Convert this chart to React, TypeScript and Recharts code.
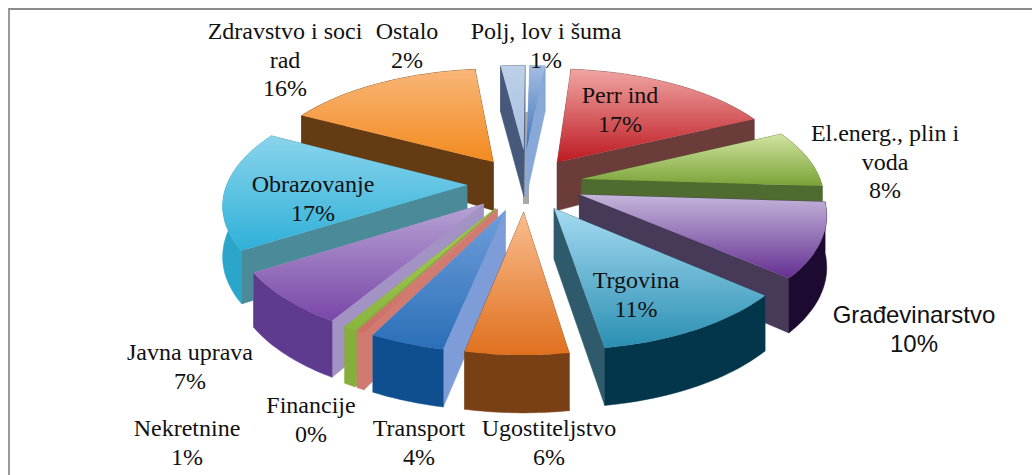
import React from 'react';
import { PieChart, Pie } from 'recharts';

// back-right half runs clockwise from the top, back-left half counter-clockwise,
// so each half paints back to front
const rightNames = ['Perr ind', 'El.energ., plin i voda', 'Građevinarstvo', 'Trgovina', 'Ugostiteljstvo'];
const rightValues = [16.5, 8.0, 10.3, 11.1, 5.7];
const leftNames = ['Polj, lov i šuma', 'Ostalo', 'Zdravstvo i soci rad', 'Obrazovanje', 'Javna uprava', 'Nekretnine', 'Financije', 'Transport'];
const leftValues = [1.2, 1.9, 15.5, 16.6, 7.4, 0.7, 0.45, 4.2];

const total = [...rightValues, ...leftValues].reduce((a, b) => a + b, 0);
const rightData = rightNames.map((name, i) => ({ name, value: rightValues[i] }));
const leftData = leftNames.map((name, i) => ({ name, value: leftValues[i] }));
const rightSpan = (rightValues.reduce((a, b) => a + b, 0) / total) * 360;
const leftSpan = (leftValues.reduce((a, b) => a + b, 0) / total) * 360;

const START = 85;
const EXPLODE = 58;
const CX = 525;
const CY = 184;
const RADIUS = 240;

// top gradient start, top gradient end, radial wall, rim wall
const colors: Record<string, string[]> = {
  'Perr ind': ['#f0a5a3', '#bd1a22', '#6b3c3a', '#6b3c3a'],
  'El.energ., plin i voda': ['#d0e4a0', '#7ba338', '#4f6b30', '#4f6b30'],
  'Građevinarstvo': ['#c4b6da', '#642f92', '#463a58', '#1c0a30'],
  'Trgovina': ['#a5daf1', '#2a8fb2', '#2f5a6c', '#03364a'],
  'Ugostiteljstvo': ['#f9bd8e', '#e0701f', '#7a4015', '#7a4015'],
  'Polj, lov i šuma': ['#a5bde2', '#3f74bb', '#88a8d8', '#88a8d8'],
  'Ostalo': ['#bdd0e8', '#a8c0e0', '#46597a', '#46597a'],
  'Zdravstvo i soci rad': ['#f9b679', '#f28a1e', '#653b13', '#653b13'],
  'Obrazovanje': ['#8ad4ec', '#2fb0d8', '#4b8b99', '#2ba6ca'],
  'Javna uprava': ['#b6a2d4', '#7a47a8', '#a392c4', '#5f3b90'],
  'Nekretnine': ['#a6c95c', '#8ab53e', '#86ae3c', '#86ae3c'],
  'Financije': ['#d98a80', '#cc6f66', '#d07a70', '#d07a70'],
  'Transport': ['#6f9edb', '#2a6fb7', '#7d9cd8', '#0f4f8f'],
};

// label centre, as [x, first line y]
const labelSpots: Record<string, [number, number]> = {
  'Perr ind': [620, 103],
  'El.energ., plin i voda': [885, 141],
  'Građevinarstvo': [914, 323],
  'Trgovina': [636, 288],
  'Ugostiteljstvo': [549, 436],
  'Polj, lov i šuma': [546, 39],
  'Ostalo': [407, 39],
  'Zdravstvo i soci rad': [285, 39],
  'Obrazovanje': [313, 192],
  'Javna uprava': [190, 360],
  'Nekretnine': [187, 436],
  'Financije': [311, 413],
  'Transport': [419, 436],
};
const labelLines: Record<string, string[]> = {
  'El.energ., plin i voda': ['El.energ., plin i', 'voda'],
  'Zdravstvo i soci rad': ['Zdravstvo i soci', 'rad'],
};
// the two narrow back slices come to a point further back and show a deep wall
const narrowBack = ['Polj, lov i šuma', 'Ostalo'];

const project = (cx: number, cy: number, X: number, Y: number, bottom = false, deep = false) => {
  const s = 1 / (1 + (0.184 * Y) / 303);
  let depth = Y > 60 ? 48 - ((Y - 60) * 20) / 200 : 48 + ((60 - Y) * 10) / 363;
  if (deep) depth = 46;
  return { x: cx + X * s, y: cy - Y * 0.47 * s + (bottom ? depth : 0) };
};

const toPath = (pts: { x: number; y: number }[]) =>
  'M' + pts.map((p) => `${p.x.toFixed(1)},${p.y.toFixed(1)}`).join('L') + 'Z';

const Slice3D = (props: any) => {
  const { cx, cy, outerRadius, startAngle, endAngle, name, payload } = props;
  const key = name ?? payload?.name;
  const c = colors[key];
  const deep = narrowBack.includes(key);
  const a0 = 90 - Math.max(startAngle, endAngle);
  const a1 = 90 - Math.min(startAngle, endAngle);
  const mid = (((a0 + a1) / 2) * Math.PI) / 180;
  const base = { X: EXPLODE * Math.sin(mid), Y: EXPLODE * Math.cos(mid) };
  const tip = deep ? { X: base.X * 0.5, Y: base.Y + 17 } : base;
  const rim: { X: number; Y: number }[] = [];
  const steps = 24;
  for (let i = 0; i <= steps; i++) {
    const a = ((a0 + ((a1 - a0) * i) / steps) * Math.PI) / 180;
    rim.push({ X: base.X + outerRadius * Math.sin(a), Y: base.Y + outerRadius * Math.cos(a) });
  }
  const P = (p: { X: number; Y: number }, b = false) => project(cx, cy, p.X, p.Y, b, deep);
  const first = rim[0];
  const last = rim[rim.length - 1];
  const walls = [
    { d: toPath([P(tip), P(first), P(first, true), P(tip, true)]), fill: c[2], y: (P(tip).y + P(first).y) / 2 },
    { d: toPath([P(tip), P(last), P(last, true), P(tip, true)]), fill: c[2], y: (P(tip).y + P(last).y) / 2 },
    {
      d: toPath([...rim.map((p) => P(p)), ...rim.slice().reverse().map((p) => P(p, true))]),
      fill: c[3],
      y: P(rim[steps / 2]).y,
    },
  ].sort((a, b) => a.y - b.y);
  return (
    <g>
      {key === narrowBack[0] && <rect x={cx - 2} y={112} width={6} height={92} fill="#a9a9a9" />}
      {walls.map((w, i) => (
        <path key={i} d={w.d} fill={w.fill} stroke={w.fill} strokeWidth={0.5} />
      ))}
      <path d={toPath([P(tip), ...rim.map((p) => P(p))])} fill={`url(#top-${rightNames.concat(leftNames).indexOf(key)})`} />
    </g>
  );
};

const SliceLabel = (props: any) => {
  const key = props.name ?? props.payload?.name;
  const spot = labelSpots[key];
  const lines = [...(labelLines[key] ?? [key]), `${Math.round((props.value / total) * 100)}%`];
  const sans = key === 'Građevinarstvo';
  return (
    <text
      x={spot[0]}
      y={spot[1]}
      textAnchor="middle"
      fill="#111"
      fontFamily={sans ? 'Liberation Sans' : 'Liberation Serif'}
      fontSize={24}
    >
      {lines.map((l, i) => (
        <tspan key={i} x={spot[0]} dy={i === 0 ? 0 : 28.5}>
          {l}
        </tspan>
      ))}
    </text>
  );
};

export default function App() {
  return (
    <div style={{ position: 'absolute', left: 0, top: 0, width: 1032, height: 475, background: '#fff' }}>
      <div style={{ position: 'absolute', left: 8, top: 8, right: 0, bottom: 0, borderTop: '2px solid #8c8c8c', borderLeft: '2px solid #9a9a9a' }} />
      <div style={{ position: 'absolute', left: 0, top: 0 }}>
        <PieChart width={1032} height={475} margin={{ top: 0, right: 0, bottom: 0, left: 0 }}>
          <defs>
            {rightNames.concat(leftNames).map((n, i) => (
              <linearGradient key={n} id={`top-${i}`} x1="0" y1="0" x2="0" y2="1">
                <stop offset="0%" stopColor={colors[n][0]} />
                <stop offset="100%" stopColor={colors[n][1]} />
              </linearGradient>
            ))}
          </defs>
          <Pie
            data={leftData}
            dataKey="value"
            nameKey="name"
            cx={CX}
            cy={CY}
            outerRadius={RADIUS}
            startAngle={START}
            endAngle={START + leftSpan}
            shape={Slice3D}
            label={SliceLabel}
            labelLine={false}
            isAnimationActive={false}
          />
          <Pie
            data={rightData}
            dataKey="value"
            nameKey="name"
            cx={CX}
            cy={CY}
            outerRadius={RADIUS}
            startAngle={START}
            endAngle={START - rightSpan}
            shape={Slice3D}
            label={SliceLabel}
            labelLine={false}
            isAnimationActive={false}
          />
        </PieChart>
      </div>
    </div>
  );
}
